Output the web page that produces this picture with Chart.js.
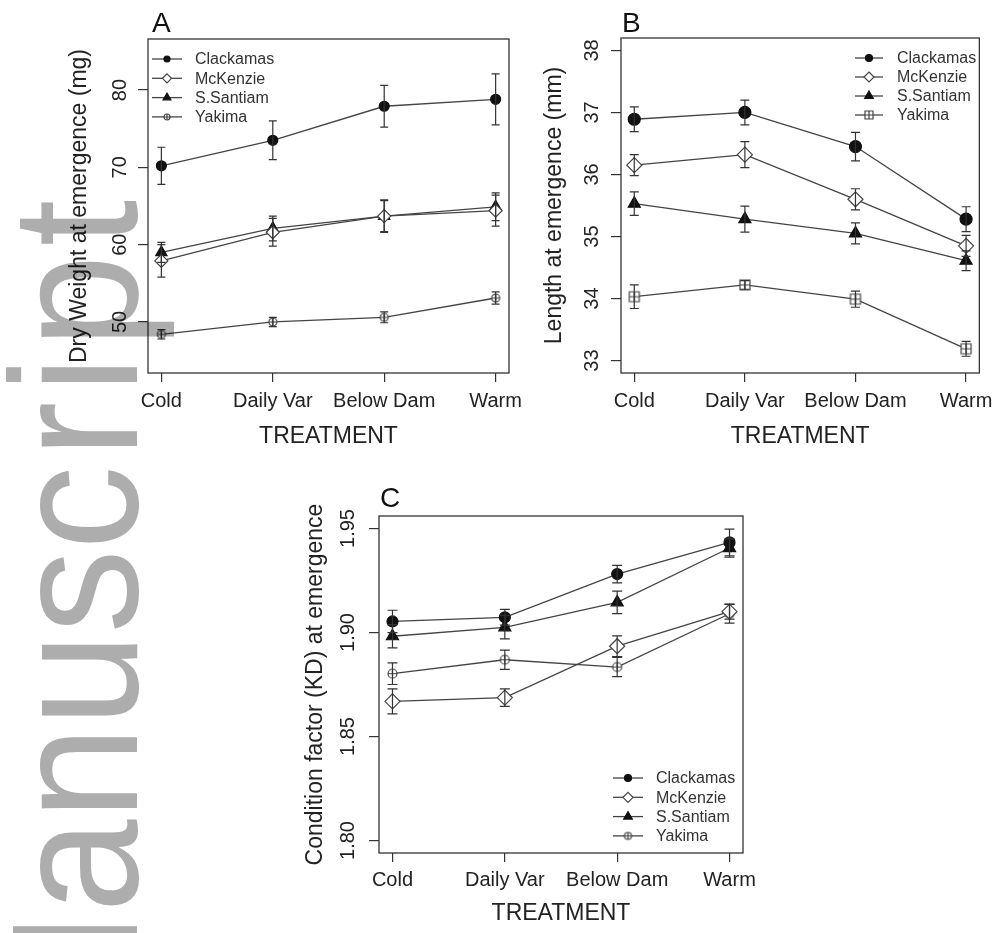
<!DOCTYPE html>
<html>
<head>
<meta charset="utf-8">
<title>Emergence traits by treatment</title>
<script src="https://cdn.jsdelivr.net/npm/chart.js@4.4.1/dist/chart.umd.min.js"></script>
<style>
    html, body { margin: 0; padding: 0; background: #fff; }
    #page { position: relative; width: 1000px; height: 933px; overflow: hidden; }
    .panel { position: absolute; }
    #mark { position: absolute; left: 0; top: 0; pointer-events: none; mix-blend-mode: multiply; }
</style>
</head>
<body>
<div id="page">
    <canvas class="panel" id="chartA"></canvas>
    <canvas class="panel" id="chartB"></canvas>
    <canvas class="panel" id="chartC"></canvas>
    <canvas id="mark" width="1000" height="933"></canvas>
</div>
<script>
/*global Chart*/

var treatments = ["Cold", "Daily Var", "Below Dam", "Warm"];
var populations = ["Clackamas", "McKenzie", "S.Santiam", "Yakima"];
var treatmentRange = [0.88, 4.12];

// A - dry weight at emergence (mg), mean and error
var weightClackamas = [70.2, 73.5, 77.9, 78.8];
var weightMcKenzie = [57.9, 61.6, 63.7, 64.4];
var weightSantiam = [59.0, 62.1, 63.7, 64.9];
var weightYakima = [48.4, 50.0, 50.6, 53.1];
var weightErrClackamas = [2.4, 2.5, 2.7, 3.3];
var weightErrMcKenzie = [2.1, 1.8, 2.1, 2.0];
var weightErrSantiam = [1.3, 1.6, 2.0, 1.8];
var weightErrYakima = [0.6, 0.6, 0.7, 0.8];
var weightTicks = [50, 60, 70, 80];
var weightRange = [43.4, 86.6];

// B - length at emergence (mm)
var lengthClackamas = [36.89, 37.00, 36.45, 35.28];
var lengthMcKenzie = [36.15, 36.32, 35.60, 34.85];
var lengthSantiam = [35.53, 35.28, 35.05, 34.61];
var lengthYakima = [34.03, 34.22, 33.99, 33.19];
var lengthErrClackamas = [0.20, 0.20, 0.23, 0.20];
var lengthErrMcKenzie = [0.17, 0.21, 0.17, 0.17];
var lengthErrSantiam = [0.19, 0.21, 0.17, 0.16];
var lengthErrYakima = [0.19, 0.07, 0.13, 0.12];
var lengthTicks = [33, 34, 35, 36, 37, 38];
var lengthRange = [32.8, 38.2];

// C - condition factor (KD)
var conditionClackamas = [1.9053, 1.9073, 1.9281, 1.9433];
var conditionMcKenzie = [1.8669, 1.8687, 1.8934, 1.9100];
var conditionSantiam = [1.8982, 1.9025, 1.9145, 1.9406];
var conditionYakima = [1.8802, 1.8869, 1.8834, 1.9090];
var conditionErrClackamas = [0.0054, 0.0038, 0.0042, 0.0064];
var conditionErrMcKenzie = [0.0060, 0.0042, 0.0050, 0.0036];
var conditionErrSantiam = [0.0056, 0.0056, 0.0054, 0.0044];
var conditionErrYakima = [0.0052, 0.0046, 0.0046, 0.0045];
var conditionTicks = [1.80, 1.85, 1.90, 1.95];
var conditionRange = [1.794, 1.956];

var FONT = "'Liberation Sans', Arial, Helvetica, sans-serif";
var INK = "#222";
var LINE = "#444";

function yakimaMarker(r, square) {
    "use strict";
    var c = document.createElement("canvas"),
        s = Math.ceil(2 * r + 4),
        g,
        m;
    c.width = s;
    c.height = s;
    g = c.getContext("2d");
    m = s / 2;
    g.strokeStyle = "#444";
    g.lineWidth = 1.2;
    g.fillStyle = "#fff";
    g.beginPath();
    if (square) {
        g.rect(m - r, m - r, 2 * r, 2 * r);
    } else {
        g.arc(m, m, r, 0, Math.PI * 2);
    }
    g.fill();
    g.stroke();
    g.beginPath();
    g.moveTo(m - r, m);
    g.lineTo(m + r, m);
    g.moveTo(m, m - r);
    g.lineTo(m, m + r);
    g.stroke();
    return c;
}

// small marker painter for the hand-drawn legend
function drawMarker(ctx, style, r, x, y, fill, stroke) {
    "use strict";
    ctx.fillStyle = fill;
    ctx.strokeStyle = stroke;
    ctx.lineWidth = 1.2;
    if (typeof style !== "string") {
        ctx.drawImage(style, x - style.width / 2, y - style.height / 2);
        return;
    }
    ctx.beginPath();
    if (style === "circle") {
        ctx.arc(x, y, r, 0, Math.PI * 2);
    } else if (style === "rectRot") {
        ctx.moveTo(x, y - r);
        ctx.lineTo(x + r, y);
        ctx.lineTo(x, y + r);
        ctx.lineTo(x - r, y);
    } else {
        ctx.moveTo(x, y - r);
        ctx.lineTo(x + r * 0.866, y + r / 2);
        ctx.lineTo(x - r * 0.866, y + r / 2);
    }
    ctx.closePath();
    ctx.fill();
    ctx.stroke();
}

var errorBars = {
    id: "errorBars",
    afterDatasetsDraw: function (chart, args, opts) {
        "use strict";
        var ctx = chart.ctx,
            xs = chart.scales.x,
            ys = chart.scales.y;
        ctx.save();
        ctx.strokeStyle = "#333";
        ctx.lineWidth = 1.2;
        chart.data.datasets.forEach(function (ds) {
            ds.data.forEach(function (pt, i) {
                var e = ds.errors[i],
                    x = xs.getPixelForValue(pt.x),
                    lo = ys.getPixelForValue(pt.y - e),
                    hi = ys.getPixelForValue(pt.y + e);
                ctx.beginPath();
                ctx.moveTo(x, lo);
                ctx.lineTo(x, hi);
                ctx.moveTo(x - opts.cap, lo);
                ctx.lineTo(x + opts.cap, lo);
                ctx.moveTo(x - opts.cap, hi);
                ctx.lineTo(x + opts.cap, hi);
                ctx.stroke();
            });
        });
        ctx.restore();
    }
};

var frame = {
    id: "frame",
    afterDraw: function (chart, args, opts) {
        "use strict";
        var a = chart.chartArea,
            ctx = chart.ctx,
            lg = opts.legend;
        ctx.save();
        ctx.strokeStyle = "#333";
        ctx.lineWidth = 1.3;
        ctx.strokeRect(a.left, a.top, a.right - a.left, a.bottom - a.top);

        ctx.fillStyle = "#111";
        ctx.font = "28px " + FONT;
        ctx.textBaseline = "alphabetic";
        ctx.textAlign = "left";
        ctx.fillText(opts.letter, a.left + opts.letterDx, a.top - opts.letterDy);

        // R style legend: line with the marker in its middle
        chart.data.datasets.forEach(function (ds, i) {
            var y = a.top + lg.top + i * lg.step,
                x0 = a.left + lg.left,
                x1 = x0 + lg.len;
            ctx.strokeStyle = LINE;
            ctx.lineWidth = 1.3;
            ctx.beginPath();
            ctx.moveTo(x0, y);
            ctx.lineTo(x1, y);
            ctx.stroke();
            drawMarker(ctx, lg.styles[i], lg.sizes[i], (x0 + x1) / 2, y,
                ds.pointBackgroundColor, ds.pointBorderColor);
            ctx.fillStyle = "#333";
            ctx.font = "16px " + FONT;
            ctx.textBaseline = "middle";
            ctx.fillText(ds.label, a.left + lg.text, y + 1);
        });
        ctx.restore();
    }
};

function labelWidth(labels, size) {
    "use strict";
    var g = document.createElement("canvas").getContext("2d"),
        w = 0;
    g.font = size + "px " + FONT;
    labels.forEach(function (t) {
        w = Math.max(w, g.measureText(t).width);
    });
    return w;
}

function makePanel(id, p, lay) {
    "use strict";
    var cv = document.getElementById(id),
        cl = lay.canvas[0],
        ct = lay.canvas[1],
        cw = lay.canvas[2],
        ch = lay.canvas[3],
        fmt = function (v) { return v.toFixed(p.digits); },
        yLabels = p.ticks.map(fmt),
        yPad = lay.box[0] - lay.yLabelX - 10 - labelWidth(yLabels, 20) / 2,
        smallYakima = yakimaMarker(lay.legendSizes[3], lay.square),
        styles = ["circle", "rectRot", "triangle", yakimaMarker(lay.sizes[3], lay.square)],
        fills = ["#111", "#fff", "#111", "#fff"],
        strokes = ["#111", "#444", "#111", "#444"],
        datasets;

    cv.style.left = cl + "px";
    cv.style.top = ct + "px";
    cv.width = cw;
    cv.height = ch;

    datasets = populations.map(function (name, k) {
        return {
            label: name,
            data: p.series[k].map(function (v, i) { return {x: i + 1, y: v}; }),
            errors: p.errors[k],
            borderColor: LINE,
            borderWidth: 1.3,
            pointStyle: styles[k],
            pointRadius: lay.sizes[k],
            pointBackgroundColor: fills[k],
            pointBorderColor: strokes[k],
            pointBorderWidth: 1.2,
            tension: 0,
            fill: false
        };
    });

    return new Chart(cv.getContext("2d"), {
        type: "line",
        data: {datasets: datasets},
        options: {
            responsive: false,
            animation: false,
            events: [],
            layout: {
                padding: {
                    left: 0,
                    top: lay.box[1] - ct,
                    right: cl + cw - lay.box[2],
                    bottom: 0
                }
            },
            scales: {
                x: {
                    type: "linear",
                    min: treatmentRange[0],
                    max: treatmentRange[1],
                    afterBuildTicks: function (s) {
                        s.ticks = treatments.map(function (t, i) { return {value: i + 1}; });
                    },
                    afterFit: function (s) { s.height = ct + ch - lay.box[3]; },
                    ticks: {
                        autoSkip: false,
                        maxRotation: 0,
                        padding: lay.xLabelY - lay.box[3] - 9 - 12,
                        color: INK,
                        font: {family: FONT, size: 20},
                        callback: function (v, i) { return treatments[i]; }
                    },
                    grid: {drawOnChartArea: false, drawTicks: true, tickLength: 9, color: "#333", lineWidth: 1.2},
                    border: {display: false},
                    title: {
                        display: true,
                        text: "TREATMENT",
                        color: INK,
                        font: {family: FONT, size: 23},
                        padding: {top: 0, bottom: ct + ch - lay.xTitleY - 13.8}
                    }
                },
                y: {
                    min: p.range[0],
                    max: p.range[1],
                    afterBuildTicks: function (s) {
                        s.ticks = p.ticks.map(function (v) { return {value: v}; });
                    },
                    afterFit: function (s) { s.width = lay.box[0] - cl; },
                    ticks: {
                        minRotation: 90,
                        maxRotation: 90,
                        crossAlign: "center",
                        padding: yPad,
                        color: INK,
                        font: {family: FONT, size: 20},
                        callback: function (v) { return fmt(v); }
                    },
                    grid: {drawOnChartArea: false, drawTicks: true, tickLength: 10, color: "#333", lineWidth: 1.2},
                    border: {display: false},
                    title: {
                        display: true,
                        text: p.yTitle,
                        color: INK,
                        font: {family: FONT, size: 23},
                        padding: {top: lay.yTitleX - cl - 13.8, bottom: 0}
                    }
                }
            },
            plugins: {
                legend: {display: false},
                tooltip: {enabled: false},
                errorBars: {cap: lay.cap},
                frame: {
                    letter: p.letter,
                    letterDx: lay.letter[0],
                    letterDy: lay.letter[1],
                    legend: {
                        left: lay.legend[0],
                        len: lay.legend[1],
                        text: lay.legend[2],
                        top: lay.legend[3],
                        step: lay.legend[4],
                        styles: ["circle", "rectRot", "triangle", smallYakima],
                        sizes: lay.legendSizes
                    }
                }
            }
        },
        plugins: [errorBars, frame]
    });
}

makePanel("chartA", {
    letter: "A",
    yTitle: "Dry Weight at emergence (mg)",
    series: [weightClackamas, weightMcKenzie, weightSantiam, weightYakima],
    errors: [weightErrClackamas, weightErrMcKenzie, weightErrSantiam, weightErrYakima],
    ticks: weightTicks,
    range: weightRange,
    digits: 0
}, {
    canvas: [40, 0, 500, 470],
    box: [148, 39, 509, 373],
    yTitleX: 80, yLabelX: 120, xLabelY: 401, xTitleY: 437,
    letter: [4, 7],
    legend: [4, 30, 47, 20, 19.3],
    sizes: [5, 6.5, 6.5, 4],
    legendSizes: [3, 4.5, 4.5, 3],
    square: false,
    cap: 4
});

makePanel("chartB", {
    letter: "B",
    yTitle: "Length at emergence (mm)",
    series: [lengthClackamas, lengthMcKenzie, lengthSantiam, lengthYakima],
    errors: [lengthErrClackamas, lengthErrMcKenzie, lengthErrSantiam, lengthErrYakima],
    ticks: lengthTicks,
    range: lengthRange,
    digits: 0
}, {
    canvas: [520, 0, 480, 470],
    box: [621, 38, 983, 373],
    yTitleX: 555, yLabelX: 592, xLabelY: 401, xTitleY: 437,
    letter: [1, 6],
    legend: [234, 28, 276, 20, 19],
    sizes: [6, 7.5, 7, 5],
    legendSizes: [3.5, 5, 5, 4],
    square: true,
    cap: 4.5
});

makePanel("chartC", {
    letter: "C",
    yTitle: "Condition factor (KD) at emergence",
    series: [conditionClackamas, conditionMcKenzie, conditionSantiam, conditionYakima],
    errors: [conditionErrClackamas, conditionErrMcKenzie, conditionErrSantiam, conditionErrYakima],
    ticks: conditionTicks,
    range: conditionRange,
    digits: 2
}, {
    canvas: [280, 470, 500, 463],
    box: [379, 516, 743, 853],
    yTitleX: 316, yLabelX: 348, xLabelY: 880, xTitleY: 914,
    letter: [1, 9],
    legend: [234, 30, 277, 262, 19.3],
    sizes: [5.5, 7.5, 7, 4.5],
    legendSizes: [3.5, 5, 5, 3.5],
    square: false,
    cap: 5
});

// grey "Manuscript" watermark running up the left edge
(function () {
    "use strict";
    var mk = document.getElementById("mark").getContext("2d"),
        w;
    mk.fillStyle = "#adadad";
    mk.font = "180px " + FONT;
    mk.translate(137, 1052);
    mk.rotate(-Math.PI / 2);
    mk.scale(0.93, 1);
    mk.fillText("Manusc", 0, 0);
    w = mk.measureText("Manusc").width;
    // the tail of the word sits a little looser in the original
    mk.letterSpacing = "9px";
    mk.fillText("ript", w + 9, 0);
}());
</script>
</body>
</html>
